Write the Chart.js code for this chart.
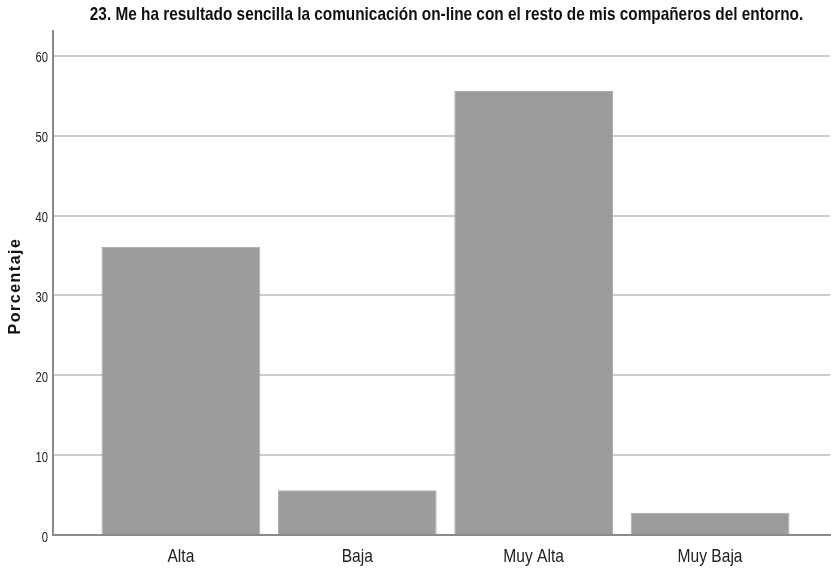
<!DOCTYPE html>
<html>
<head>
<meta charset="utf-8">
<script src="https://cdn.jsdelivr.net/npm/chart.js@4"></script>
<style>
  html, body { margin: 0; padding: 0; background: #fff; }
  #wrap { width: 831px; height: 569px; }
</style>
</head>
<body>
<div id="wrap"><canvas id="chart" width="831" height="569"></canvas></div>
<script>
const TITLE = "23. Me ha resultado sencilla la comunicación on-line con el resto de mis compañeros del entorno.";
const Y_TITLE = "Porcentaje";
const CATEGORIES = ["Alta", "Baja", "Muy Alta", "Muy Baja"];
const PERCENTAGES = [36.1, 5.6, 55.6, 2.8];
const Y_TICKS = [0, 10, 20, 30, 40, 50, 60];

const FONT = "'Liberation Sans', Arial, sans-serif";
const BAR_COLOR = "#9c9c9c";
const GRID_COLOR = "#cccccc";
const AXIS_COLOR = "#8a8a8a";

// bars sit on positions 1..4 of a linear x axis so the side margins can match
const points = PERCENTAGES.map((value, i) => ({ x: i + 1, y: value }));

// SPSS uses a condensed face; squeeze regular text horizontally to get the look
function narrowText(ctx, text, x, y, squeeze) {
  ctx.save();
  ctx.translate(x, y);
  ctx.scale(squeeze, 1);
  ctx.fillText(text, 0, 0);
  ctx.restore();
}

const spssText = {
  id: "spssText",
  afterDraw(chart) {
    const { ctx, chartArea, scales } = chart;
    ctx.save();
    ctx.textBaseline = "alphabetic";

    // title, centred over the plot area
    ctx.font = "bold 18.5px " + FONT;
    ctx.fillStyle = "#111";
    ctx.textAlign = "center";
    narrowText(ctx, TITLE, (chartArea.left + chartArea.right) / 2 + 5, 20, 0.83);

    // category labels
    ctx.font = "19px " + FONT;
    ctx.fillStyle = "#222";
    CATEGORIES.forEach((label, i) => {
      narrowText(ctx, label, scales.x.getPixelForValue(i + 1), chartArea.bottom + 27, 0.82);
    });

    // value ticks
    ctx.font = "14px " + FONT;
    ctx.textAlign = "right";
    Y_TICKS.forEach((v) => {
      narrowText(ctx, String(v), chartArea.left - 5, scales.y.getPixelForValue(v) + 6.5, 0.8);
    });

    // axis title
    ctx.font = "bold 16px " + FONT;
    ctx.fillStyle = "#111";
    ctx.textAlign = "center";
    ctx.letterSpacing = "1.5px";
    ctx.translate(20, (chartArea.top + chartArea.bottom) / 2 + 3);
    ctx.rotate(-Math.PI / 2);
    ctx.fillText(Y_TITLE, 0, 0);
    ctx.restore();
  },
};

const ctx = document.getElementById("chart").getContext("2d");
new Chart(ctx, {
  type: "bar",
  data: {
    datasets: [
      {
        label: Y_TITLE,
        data: points,
        backgroundColor: BAR_COLOR,
        borderColor: "#aaaaaa",
        borderWidth: 1,
        barPercentage: 0.9,
        categoryPercentage: 1,
      },
    ],
  },
  options: {
    responsive: false,
    animation: false,
    layout: { padding: { top: 31, right: 1, left: 0, bottom: 0 } },
    scales: {
      x: {
        type: "linear",
        offset: false,
        min: 0.275,
        max: 4.68,
        // one tick per category; the bar width is measured from tick spacing
        afterBuildTicks: (axis) => {
          axis.ticks = CATEGORIES.map((_, i) => ({ value: i + 1 }));
        },
        ticks: { display: false },
        grid: { display: false, drawTicks: false },
        border: { display: true, color: AXIS_COLOR, width: 2 },
        afterFit: (axis) => { axis.height = 34; },
      },
      y: {
        min: 0,
        max: 63.1,
        afterBuildTicks: (axis) => {
          axis.ticks = Y_TICKS.map((v) => ({ value: v }));
        },
        ticks: { display: false },
        grid: { color: GRID_COLOR, lineWidth: 2, drawTicks: false },
        border: { display: true, color: AXIS_COLOR, width: 2 },
        afterFit: (axis) => { axis.width = 53; },
      },
    },
    plugins: {
      legend: { display: false },
      tooltip: { enabled: false },
      title: { display: false },
    },
  },
  plugins: [spssText],
});
</script>
</body>
</html>
